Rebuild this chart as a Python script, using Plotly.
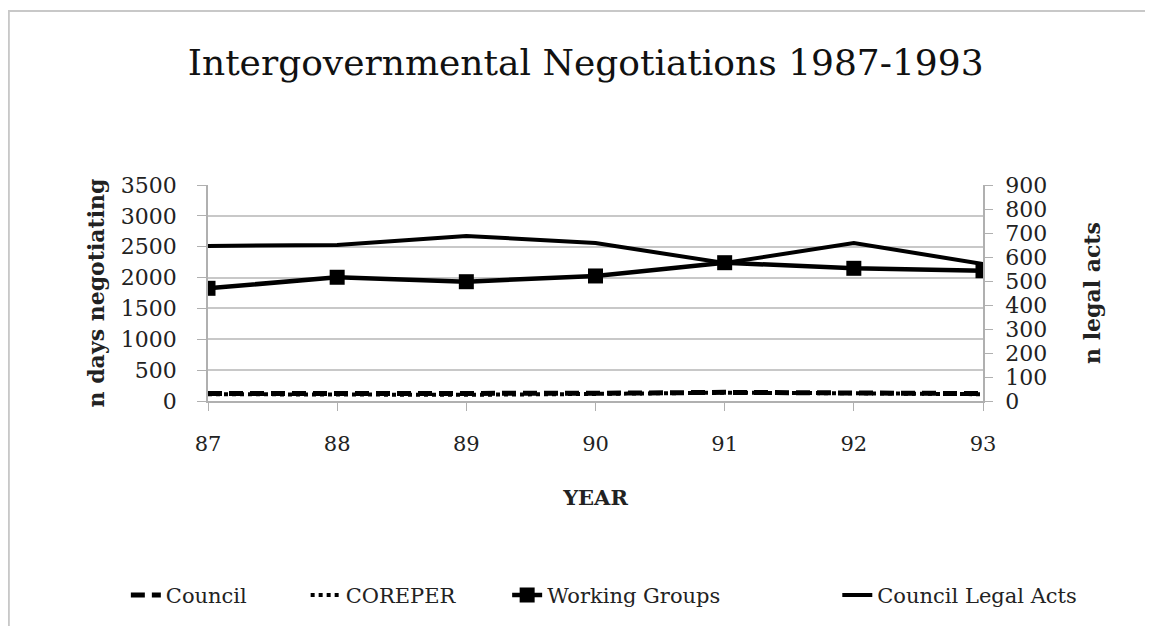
import plotly.graph_objects as go

years = ["87", "88", "89", "90", "91", "92", "93"]
council = [120, 115, 110, 125, 140, 130, 120]
coreper = [110, 105, 100, 115, 135, 125, 110]
working_groups = [1826, 2005, 1933, 2026, 2241, 2150, 2111]
legal_acts = [646, 650, 688, 658, 575, 658, 571]

font = "DejaVu Serif"

fig = go.Figure()

fig.add_trace(go.Scatter(x=years, y=council, mode='lines', name='Council', legend='legend5',
                         line=dict(color='black', width=5, dash='14px,7px')))
fig.add_trace(go.Scatter(x=years, y=coreper, mode='lines', name='COREPER', legend='legend2',
                         line=dict(color='black', width=4, dash='dot')))
fig.add_trace(go.Scatter(x=years, y=working_groups, mode='lines+markers', name='Working Groups',
                         legend='legend3', line=dict(color='black', width=4.5),
                         marker=dict(symbol='square', size=15, color='black')))
fig.add_trace(go.Scatter(x=years, y=legal_acts, mode='lines', name='Council Legal Acts',
                         legend='legend4', line=dict(color='black', width=4), yaxis='y2'))

leg = dict(orientation='h', xanchor='left', y=-0.9, yanchor='middle', font=dict(size=21))

# page body has an 8px margin, so the figure is shifted by 8px
fig.update_layout(
    width=1153, height=626,
    margin=dict(l=200, r=178, t=177, b=233, autoexpand=False),
    paper_bgcolor='white', plot_bgcolor='white',
    font=dict(family=font, size=21, color='#222'),
    title=dict(text='Intergovernmental Negotiations 1987-1993', x=0.501, xanchor='center',
               y=1 - 54 / 626, yanchor='middle', font=dict(size=36, color='#111')),
    xaxis=dict(type='category', range=[0, 6], showgrid=False, showline=True,
               linecolor='#b0b0b0', linewidth=1.5, ticks='outside', ticklen=8,
               tickcolor='#b0b0b0', ticklabelstandoff=15,
               title=dict(text='<b>YEAR</b>', font=dict(size=21), standoff=35)),
    yaxis=dict(range=[0, 3500], dtick=500, showgrid=True, gridcolor='#c8c8c8', gridwidth=1.5,
               showline=True, linecolor='#b0b0b0', linewidth=1.5, ticks='outside', ticklen=9,
               tickcolor='#b0b0b0', ticklabelstandoff=16, zeroline=False, tickfont=dict(size=22),
               title=dict(text='<b>n days negotiating</b>', font=dict(size=22), standoff=10)),
    yaxis2=dict(range=[0, 900], dtick=100, overlaying='y', side='right', showgrid=False,
                showline=True, linecolor='#b0b0b0', linewidth=1.5, ticks='outside', ticklen=8,
                tickcolor='#b0b0b0', ticklabelstandoff=8, zeroline=False, tickfont=dict(size=22),
                title=dict(text='<b>n legal acts</b>', font=dict(size=22), standoff=38)),
    legend5=dict(leg, x=-0.106),
    legend2=dict(leg, x=0.126),
    legend3=dict(leg, x=0.386),
    legend4=dict(leg, x=0.812),
    shapes=[dict(type='rect', xref='paper', yref='paper', x0=-0.257, x1=1.3, y0=-1.3, y1=1.806,
                 line=dict(color='#c8c8c8', width=2))],
)

fig.write_html("out.html")
